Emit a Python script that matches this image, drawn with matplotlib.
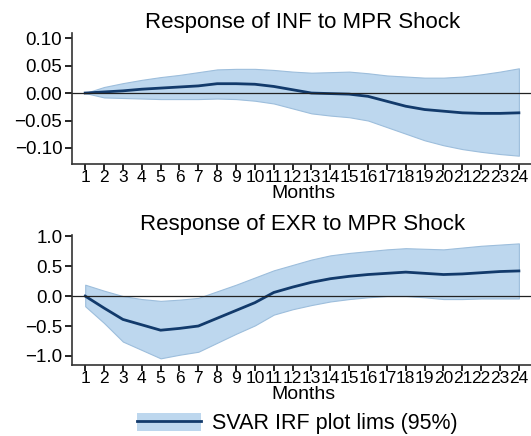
import numpy as np
import matplotlib.pyplot as plt
from matplotlib.patches import Patch
from matplotlib.lines import Line2D

plt.rcParams['font.family'] = ['Liberation Sans', 'DejaVu Sans']

months = list(range(1, 25))

# Response of INF to MPR shock
inf_irf = [0.0, 0.002, 0.004, 0.007, 0.009, 0.011, 0.013, 0.017, 0.017, 0.016, 0.012, 0.006,
           0.0, -0.001, -0.002, -0.006, -0.015, -0.024, -0.030, -0.033, -0.036, -0.037, -0.037, -0.036]
inf_upper = [0.0, 0.011, 0.018, 0.024, 0.029, 0.033, 0.038, 0.043, 0.044, 0.044, 0.042, 0.039,
             0.037, 0.038, 0.039, 0.036, 0.032, 0.030, 0.028, 0.028, 0.030, 0.034, 0.039, 0.045]
inf_lower = [0.0, -0.008, -0.009, -0.010, -0.011, -0.011, -0.011, -0.010, -0.011, -0.014, -0.019, -0.028,
             -0.037, -0.041, -0.044, -0.050, -0.062, -0.074, -0.086, -0.095, -0.102, -0.107, -0.111, -0.114]

# Response of EXR to MPR shock
exr_irf = [0.0, -0.20, -0.39, -0.48, -0.57, -0.54, -0.50, -0.37, -0.24, -0.11, 0.06, 0.15,
           0.23, 0.29, 0.33, 0.36, 0.38, 0.40, 0.38, 0.36, 0.37, 0.39, 0.41, 0.42]
exr_upper = [0.19, 0.09, 0.0, -0.05, -0.08, -0.06, -0.03, 0.08, 0.19, 0.31, 0.43, 0.52,
             0.61, 0.68, 0.72, 0.75, 0.78, 0.80, 0.79, 0.78, 0.81, 0.84, 0.86, 0.88]
exr_lower = [-0.17, -0.45, -0.76, -0.90, -1.04, -0.98, -0.93, -0.78, -0.63, -0.49, -0.31, -0.22,
             -0.15, -0.09, -0.05, -0.02, 0.0, 0.0, -0.02, -0.05, -0.05, -0.04, -0.04, -0.04]

band_col = '#bdd7ee'
band_edge = '#9dbedc'
line_col = '#123a6b'

fig = plt.figure(figsize=(5.31, 4.36), dpi=100)
ax1 = fig.add_axes([0.1356, 0.624, 0.870, 0.300])
ax2 = fig.add_axes([0.1356, 0.163, 0.870, 0.298])

panels = [
    (ax1, 'Response of INF to MPR Shock', inf_irf, inf_lower, inf_upper,
     (-0.129, 0.109), [-0.10, -0.05, 0.0, 0.05, 0.10], '{:.2f}'),
    (ax2, 'Response of EXR to MPR Shock', exr_irf, exr_lower, exr_upper,
     (-1.15, 1.02), [-1.0, -0.5, 0.0, 0.5, 1.0], '{:.1f}'),
]

for ax, title, irf, lo, hi, ylim, yticks, fmt in panels:
    ax.fill_between(months, lo, hi, color=band_col, edgecolor=band_edge, linewidth=0.8)
    ax.plot(months, irf, color=line_col, linewidth=2)
    ax.axhline(0, color='#222222', linewidth=0.9)
    ax.set_xlim(0.3, 24.8)
    ax.set_ylim(*ylim)
    ax.set_xticks(months)
    ax.set_yticks(yticks)
    ax.set_yticklabels([fmt.format(v).replace('-', '\u2212') for v in yticks])
    ax.tick_params(axis='y', labelsize=13.5, length=5, width=1.2, pad=2)
    ax.tick_params(axis='x', labelsize=12.5, length=4, width=1.2, pad=0.5)
    ax.set_xlabel('Months', fontsize=14, labelpad=0)
    ax.set_title(title, fontsize=16, pad=3)
    for s in ['top', 'right']:
        ax.spines[s].set_visible(False)
    for s in ['left', 'bottom']:
        ax.spines[s].set_linewidth(1.2)
        ax.spines[s].set_color('#333333')

handle = (Patch(facecolor=band_col, edgecolor='none'), Line2D([], [], color=line_col, linewidth=2))
fig.legend([handle], ['SVAR IRF plot lims (95%)'], loc='center', bbox_to_anchor=(0.56, 0.028),
           frameon=False, fontsize=15.5, handlelength=3.0, handleheight=0.9, handletextpad=0.5,
           borderpad=0.2)

fig.savefig('out.png', dpi=100)
